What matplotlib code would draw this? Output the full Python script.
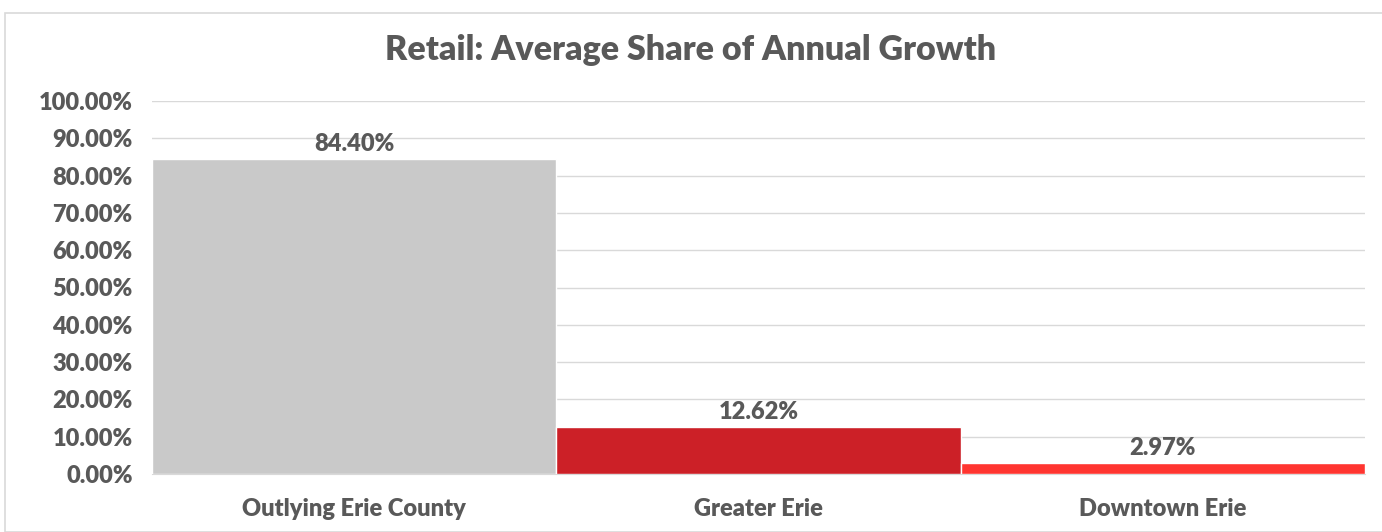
import matplotlib
matplotlib.use("Agg")
import matplotlib.pyplot as plt
from matplotlib.patches import Rectangle
from matplotlib.ticker import FuncFormatter, MultipleLocator

categories = ["Outlying Erie County", "Greater Erie", "Downtown Erie"]
values = [84.40, 12.62, 2.97]
colors = ["#C9C9C9", "#CC2027", "#FF3530"]
title = "Retail: Average Share of Annual Growth"

plt.rcParams['font.family'] = ['Lato', 'DejaVu Sans']
txt = "#595959"
W = "heavy"

fig = plt.figure(figsize=(13.82, 5.32), dpi=100)
fig.patches.append(Rectangle((5/1382, 0.0), 1.0, 1 - 13/532, transform=fig.transFigure,
                             fill=False, edgecolor="#D9D9D9", linewidth=1.2))
ax = fig.add_axes([152/1382, 1 - 474/532, (1365-152)/1382, (474-101)/532])

x = range(len(categories))
bars = ax.bar(x, values, width=1.0, color=colors, edgecolor="white", linewidth=1, zorder=3)
for xi, v in zip(x, values):
    ax.text(xi, v + 1.0, f"{v:.2f}%", ha="center", va="bottom", fontsize=17,
            fontweight=W, color=txt, zorder=4)

ax.set_xlim(-0.5, 2.5)
ax.set_ylim(0, 100)
ax.yaxis.set_major_locator(MultipleLocator(10))
ax.yaxis.set_major_formatter(FuncFormatter(lambda v, p: f"{v:.2f}%"))
ax.set_xticks(list(x))
ax.set_xticklabels(categories)
ax.grid(axis="y", color="#D9D9D9", linewidth=1, zorder=0)
for s in ["top", "right", "left"]:
    ax.spines[s].set_visible(False)
ax.spines["bottom"].set_color("#D9D9D9")
ax.tick_params(axis="both", length=0, labelsize=17, colors=txt)
ax.tick_params(axis="x", pad=17)
ax.tick_params(axis="y", pad=14)
for lab in ax.get_xticklabels() + ax.get_yticklabels():
    lab.set_fontweight(W)

fig.text(0.5, 1 - 50/532, title, ha="center", va="center", fontsize=24.5,
         fontweight=W, color=txt)

fig.savefig("out.png", dpi=100)
